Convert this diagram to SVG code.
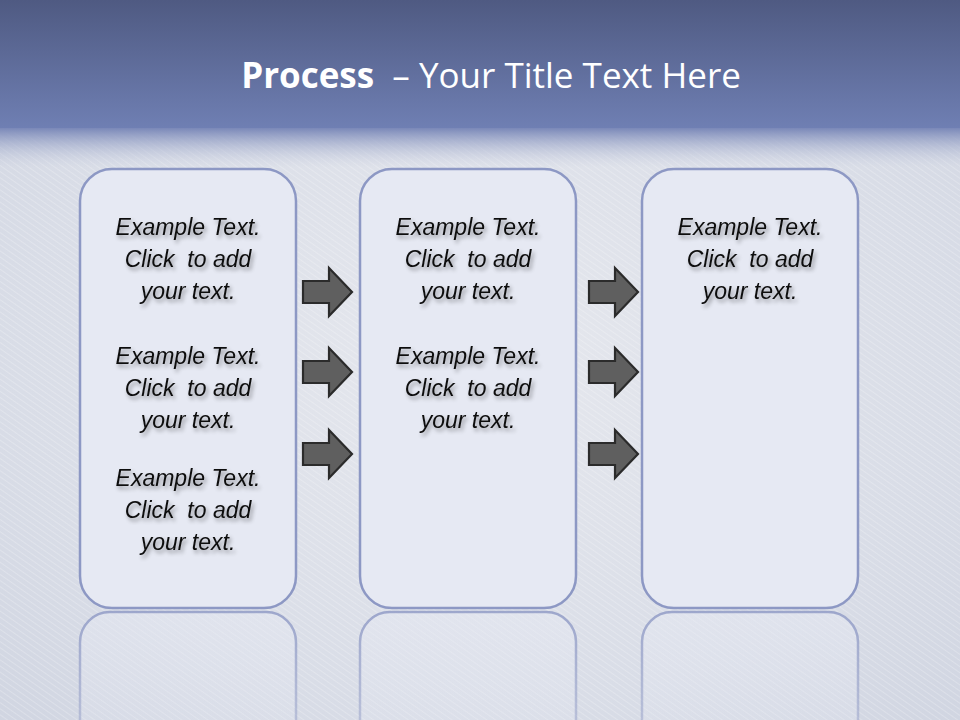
<svg xmlns="http://www.w3.org/2000/svg" width="960" height="720" viewBox="0 0 960 720">
<defs>
<linearGradient id="hdr" x1="0" y1="0" x2="0" y2="1">
<stop offset="0" stop-color="#4f5a82"/>
<stop offset="1" stop-color="#6f7fb3"/>
</linearGradient>
<linearGradient id="band" x1="0" y1="0" x2="0" y2="1">
<stop offset="0" stop-color="#7a88b8"/>
<stop offset="1" stop-color="#c9cfe0" stop-opacity="0"/>
</linearGradient>
<radialGradient id="cloth" cx="0.5" cy="0.5" r="0.8">
<stop offset="0" stop-color="#e6e8ee"/>
<stop offset="0.6" stop-color="#d9dde7"/>
<stop offset="1" stop-color="#cdd2df"/>
</radialGradient>
<pattern id="weave" width="5" height="5" patternUnits="userSpaceOnUse" patternTransform="rotate(35)">
<line x1="0" y1="0" x2="5" y2="0" stroke="#ffffff" stroke-opacity="0.3" stroke-width="1.5"/>
</pattern>
<linearGradient id="refl" x1="0" y1="0" x2="0" y2="1">
<stop offset="0" stop-color="#e6e9f3" stop-opacity="0.5"/>
<stop offset="1" stop-color="#e6e9f3" stop-opacity="0"/>
</linearGradient>
<linearGradient id="reflStroke" x1="0" y1="0" x2="0" y2="1">
<stop offset="0" stop-color="#8d98c4" stop-opacity="0.8"/>
<stop offset="1" stop-color="#8d98c4" stop-opacity="0.15"/>
</linearGradient>
<filter id="sh" x="-10%" y="-20%" width="130%" height="150%">
<feGaussianBlur in="SourceAlpha" stdDeviation="2"/>
<feOffset dx="2" dy="3" result="b"/>
<feComponentTransfer><feFuncA type="linear" slope="0.4"/></feComponentTransfer>
<feMerge><feMergeNode/><feMergeNode in="SourceGraphic"/></feMerge>
</filter>
<path id="arrow" d="M0,-11 L26,-11 L26,-24 L49,0 L26,24 L26,11 L0,11 Z"/>
</defs>
<style>
.box{fill:#e6e9f3;stroke:#8d98c4;stroke-width:2.5}
.rbox{fill:url(#refl);stroke:url(#reflStroke);stroke-width:2.5}
.t{font-family:"Liberation Sans",Arial,sans-serif;font-style:italic;font-size:23px;fill:#111;text-anchor:middle;white-space:pre}
.arr{fill:#5f5f5f;stroke:#2b2b2b;stroke-width:2.2;stroke-linejoin:miter}
.title{font-family:"Open Sans","Liberation Sans",sans-serif;font-size:35px;fill:#fff;text-anchor:middle;white-space:pre}
</style>
<rect width="960" height="720" fill="url(#cloth)"/>
<rect width="960" height="720" fill="url(#weave)"/>
<rect width="960" height="128" fill="url(#hdr)"/>
<rect y="128" width="960" height="40" fill="url(#band)"/>
<text class="title" x="491" y="88"><tspan font-weight="bold">Process</tspan>  – Your Title Text Here</text>

<g id="reflections">
<rect class="rbox" x="80" y="612" width="216" height="200" rx="30"/>
<rect class="rbox" x="360" y="612" width="216" height="200" rx="30"/>
<rect class="rbox" x="642" y="612" width="216" height="200" rx="30"/>
</g>

<g id="box1">
<rect class="box" x="80" y="169" width="216" height="439" rx="32"/>
<g filter="url(#sh)">
<text class="t" x="188" y="235">Example Text.</text>
<text class="t" x="188" y="267">Click  to add</text>
<text class="t" x="188" y="299">your text.</text>
<text class="t" x="188" y="364">Example Text.</text>
<text class="t" x="188" y="396">Click  to add</text>
<text class="t" x="188" y="428">your text.</text>
<text class="t" x="188" y="486">Example Text.</text>
<text class="t" x="188" y="518">Click  to add</text>
<text class="t" x="188" y="550">your text.</text>
</g>
</g>
<g id="box2">
<rect class="box" x="360" y="169" width="216" height="439" rx="32"/>
<g filter="url(#sh)">
<text class="t" x="468" y="235">Example Text.</text>
<text class="t" x="468" y="267">Click  to add</text>
<text class="t" x="468" y="299">your text.</text>
<text class="t" x="468" y="364">Example Text.</text>
<text class="t" x="468" y="396">Click  to add</text>
<text class="t" x="468" y="428">your text.</text>
</g>
</g>
<g id="box3">
<rect class="box" x="642" y="169" width="216" height="439" rx="32"/>
<g filter="url(#sh)">
<text class="t" x="750" y="235">Example Text.</text>
<text class="t" x="750" y="267">Click  to add</text>
<text class="t" x="750" y="299">your text.</text>
</g>
</g>

<g id="connectors">
<use href="#arrow" class="arr" transform="translate(303,292)"/>
<use href="#arrow" class="arr" transform="translate(303,372)"/>
<use href="#arrow" class="arr" transform="translate(303,454)"/>
<use href="#arrow" class="arr" transform="translate(589,292)"/>
<use href="#arrow" class="arr" transform="translate(589,372)"/>
<use href="#arrow" class="arr" transform="translate(589,454)"/>
</g>
</svg>
